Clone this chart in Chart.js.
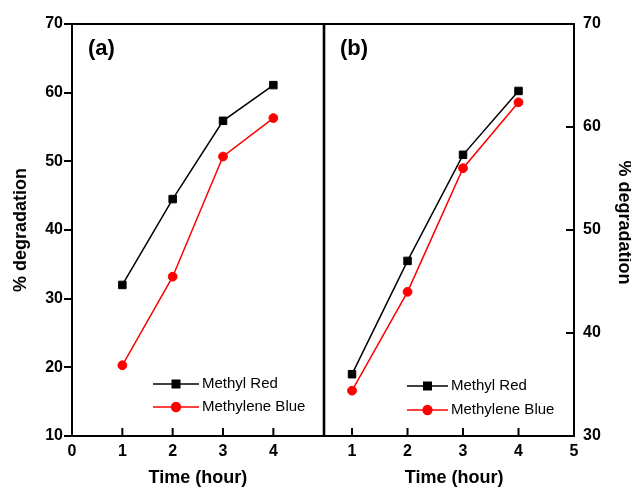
<!DOCTYPE html>
<html>
<head>
<meta charset="utf-8">
<script src="https://cdn.jsdelivr.net/npm/chart.js@4/dist/chart.umd.min.js"></script>
<style>
  body { margin: 0; background: #fff; overflow: hidden; }
  canvas { position: absolute; top: 0; }
  #chartA { left: 0; }
  #chartB { left: 318px; }
</style>
</head>
<body>
<canvas id="chartA" width="330" height="489"></canvas>
<canvas id="chartB" width="313" height="489"></canvas>
<script>
// dados
const timeHours = [1, 2, 3, 4];
const methylRedA = [32.0, 44.5, 55.9, 61.1];
const methyleneBlueA = [20.3, 33.2, 50.7, 56.3];
const methylRedB = [36.0, 47.0, 57.3, 63.5];
const methyleneBlueB = [34.4, 44.0, 56.0, 62.4];

const xTicksA = [0, 1, 2, 3, 4];
const yTicksA = [10, 20, 30, 40, 50, 60, 70];
const xTicksB = [1, 2, 3, 4, 5];
const yTicksB = [30, 40, 50, 60, 70];

const FONT = 'Arial, "Liberation Sans", sans-serif';

const toPoints = (ys) => timeHours.map((t, i) => ({ x: t, y: ys[i] }));

// moldura preta em volta da área do gráfico
const framePlugin = {
    id: 'frame',
    afterDraw(chart) {
        const { ctx, chartArea } = chart;
        ctx.save();
        ctx.strokeStyle = '#000';
        ctx.lineWidth = 2;
        ctx.strokeRect(chartArea.left, chartArea.top, chartArea.right - chartArea.left, chartArea.bottom - chartArea.top);
        ctx.restore();
    }
};

// marcas de escala para dentro
const inwardTicks = {
    id: 'inwardTicks',
    afterDraw(chart, args, opts) {
        const { ctx, chartArea } = chart;
        ctx.save();
        ctx.strokeStyle = '#000';
        ctx.lineWidth = 2;
        (opts.axes || []).forEach((id) => {
            const s = chart.scales[id];
            s.ticks.forEach((t) => {
                const p = s.getPixelForValue(t.value);
                ctx.beginPath();
                if (s.isHorizontal()) {
                    ctx.moveTo(p, chartArea.bottom);
                    ctx.lineTo(p, chartArea.bottom - 8);
                } else {
                    ctx.moveTo(chartArea.right, p);
                    ctx.lineTo(chartArea.right - 8, p);
                }
                ctx.stroke();
            });
        });
        ctx.restore();
    }
};

// legenda e rótulo do painel desenhados dentro do gráfico
const panelDecor = {
    id: 'panelDecor',
    afterDraw(chart, args, opts) {
        const ctx = chart.ctx;
        ctx.save();
        ctx.fillStyle = '#000';
        ctx.font = 'bold 22px ' + FONT;
        ctx.textBaseline = 'middle';
        ctx.textAlign = 'left';
        ctx.fillText(opts.panel, opts.panelX, opts.panelY);

        chart.data.datasets.forEach((ds, i) => {
            const y = opts.legendY + i * opts.rowGap;
            const x = opts.legendX;
            ctx.strokeStyle = ds.borderColor;
            ctx.lineWidth = ds.borderWidth;
            ctx.beginPath();
            ctx.moveTo(x, y);
            ctx.lineTo(x + opts.lineLen, y);
            ctx.stroke();
            ctx.fillStyle = ds.backgroundColor;
            Chart.helpers.drawPoint(ctx, {
                pointStyle: ds.pointStyle,
                radius: ds.pointRadius,
                borderWidth: ds.pointBorderWidth,
                rotation: 0
            }, x + opts.lineLen / 2, y);
            ctx.fillStyle = '#000';
            ctx.font = '15px ' + FONT;
            ctx.fillText(ds.label, x + opts.lineLen + 3, y);
        });
        ctx.restore();
    }
};

function makeDatasets(red, blue) {
    return [
        {
            label: 'Methyl Red',
            data: toPoints(red),
            borderColor: '#000',
            backgroundColor: '#000',
            borderWidth: 1.5,
            pointStyle: 'rect',
            pointRadius: 5.3,
            pointBorderWidth: 1,
            tension: 0
        },
        {
            label: 'Methylene Blue',
            data: toPoints(blue),
            borderColor: '#ff0000',
            backgroundColor: '#ff0000',
            borderWidth: 1.5,
            pointStyle: 'circle',
            pointRadius: 4.4,
            pointBorderWidth: 1,
            tension: 0
        }
    ];
}

const tickFont = { family: FONT, size: 16, weight: 'bold' };
const titleFont = { family: FONT, size: 18, weight: 'bold' };

// painel (a)
new Chart(document.getElementById('chartA'), {
    type: 'line',
    data: { datasets: makeDatasets(methylRedA, methyleneBlueA) },
    plugins: [framePlugin, inwardTicks, panelDecor],
    options: {
        responsive: false,
        animation: false,
        layout: { padding: { top: 24, right: 6, left: 0, bottom: 0 } },
        plugins: {
            legend: { display: false },
            tooltip: { enabled: false },
            inwardTicks: { axes: ['x'] },
            panelDecor: { panel: '(a)', panelX: 88, panelY: 49, legendX: 153, legendY: 384, rowGap: 23, lineLen: 46 }
        },
        scales: {
            x: {
                type: 'linear',
                min: 0,
                max: 5,
                afterBuildTicks: (s) => { s.ticks = xTicksA.map((v) => ({ value: v })); },
                afterFit: (s) => { s.height = 53; },
                grid: { display: false, drawTicks: false },
                border: { display: false },
                ticks: { font: tickFont, color: '#000', padding: 6 },
                title: { display: true, text: 'Time (hour)', font: titleFont, color: '#000', padding: { top: 0, bottom: 0 } }
            },
            y: {
                type: 'linear',
                min: 10,
                max: 70,
                afterBuildTicks: (s) => { s.ticks = yTicksA.map((v) => ({ value: v })); },
                afterFit: (s) => { s.width = 72; },
                grid: { drawOnChartArea: false, tickLength: 8, color: '#000', lineWidth: 2 },
                border: { display: false },
                ticks: { font: tickFont, color: '#000', padding: 1 },
                title: { display: true, text: '% degradation', font: titleFont, color: '#000', padding: { top: 10, bottom: 0 } }
            }
        }
    }
});

// painel (b)
new Chart(document.getElementById('chartB'), {
    type: 'line',
    data: { datasets: makeDatasets(methylRedB, methyleneBlueB) },
    plugins: [framePlugin, inwardTicks, panelDecor],
    options: {
        responsive: false,
        animation: false,
        layout: { padding: { top: 24, right: 0, left: 6, bottom: 0 } },
        plugins: {
            legend: { display: false },
            tooltip: { enabled: false },
            inwardTicks: { axes: ['x', 'y'] },
            panelDecor: { panel: '(b)', panelX: 22, panelY: 49, legendX: 89, legendY: 386, rowGap: 24, lineLen: 41 }
        },
        scales: {
            x: {
                type: 'linear',
                min: 0.5,
                max: 5,
                afterBuildTicks: (s) => { s.ticks = xTicksB.map((v) => ({ value: v })); },
                afterFit: (s) => { s.height = 53; },
                grid: { display: false, drawTicks: false },
                border: { display: false },
                ticks: { font: tickFont, color: '#000', padding: 6 },
                title: { display: true, text: '  Time (hour)', font: titleFont, color: '#000', padding: { top: 0, bottom: 0 } }
            },
            y: {
                type: 'linear',
                position: 'right',
                min: 30,
                max: 70,
                afterBuildTicks: (s) => { s.ticks = yTicksB.map((v) => ({ value: v })); },
                afterFit: (s) => { s.width = 57; },
                grid: { display: false, drawTicks: false },
                border: { display: false },
                ticks: { font: tickFont, color: '#000', padding: 9 },
                title: { display: true, text: '% degradation   ', font: titleFont, color: '#000', padding: { top: -4, bottom: 0 } }
            }
        }
    }
});
</script>
</body>
</html>
